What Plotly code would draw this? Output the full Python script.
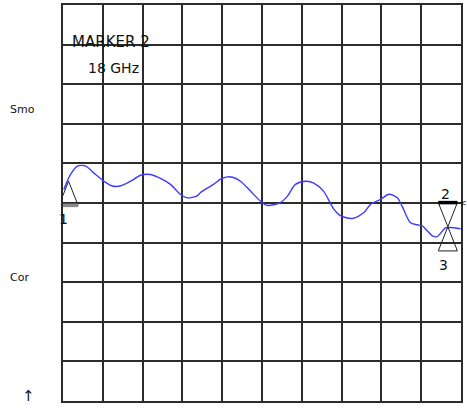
import plotly.graph_objects as go

# ---- data (x and y in screen divisions, 10 x 10 grid) ----
trace_x = [0.02, 0.19, 0.36, 0.57, 0.77, 1.03, 1.24, 1.44, 1.70, 1.95, 2.20, 2.45,
           2.70, 2.95, 3.12, 3.37, 3.45, 3.78, 3.96, 4.13, 4.26, 4.46, 4.71, 4.96,
           5.13, 5.46, 5.63, 5.84, 6.09, 6.29, 6.545, 6.80, 6.97, 7.27, 7.56, 7.73,
           7.98, 8.19, 8.40, 8.52, 8.73, 8.90, 9.03, 9.15, 9.28, 9.40, 9.61, 9.73, 9.99]
trace_y = [5.34, 5.72, 5.93, 5.93, 5.76, 5.55, 5.43, 5.43, 5.55, 5.70, 5.72, 5.62,
           5.47, 5.22, 5.13, 5.18, 5.26, 5.47, 5.60, 5.66, 5.65, 5.55, 5.30, 5.05,
           4.94, 5.01, 5.16, 5.47, 5.55, 5.51, 5.30, 4.85, 4.68, 4.61, 4.76, 4.97,
           5.09, 5.22, 5.13, 4.92, 4.50, 4.45, 4.42, 4.30, 4.17, 4.15, 4.37, 4.38, 4.35]

marker_x = [0.14, 9.67, 9.67]
marker_y = [5.55, 4.40, 4.40]
marker_dir = ["up", "down", "up"]
marker_labels = ["1", "2", "3"]

marker_title = "MARKER 2"
marker_freq = "18 GHz"
side_labels = ["Smo", "Cor", "↑"]

# ---- styles ----
TRI_H = 0.61
TRI_HW = 0.24
GRID = "#2b2b2b"
FONT = "DejaVu Sans"

fig = go.Figure()

fig.add_trace(go.Scatter(x=trace_x, y=trace_y, mode="lines",
                         line=dict(color="#3b3bff", width=1.4, shape="spline", smoothing=0.8),
                         hoverinfo="skip", showlegend=False))

base_styles = [dict(color="#8a8a8a", width=3.5), dict(color="#000000", width=3.5), None]
label_offsets = [(-0.12, -0.95), (-0.06, 0.83), (-0.12, -0.96)]

for mx, my, d, lab, bs, off in zip(marker_x, marker_y, marker_dir, marker_labels,
                                    base_styles, label_offsets):
    sign = -1 if d == "up" else 1
    by = my + sign * TRI_H
    fig.add_trace(go.Scatter(x=[mx, mx - TRI_HW, mx + TRI_HW, mx],
                             y=[my, by, by, my], mode="lines",
                             line=dict(color="#222222", width=1),
                             hoverinfo="skip", showlegend=False))
    if bs is not None:
        fig.add_trace(go.Scatter(x=[mx - TRI_HW, mx + TRI_HW], y=[by, by], mode="lines",
                                 line=bs, hoverinfo="skip", showlegend=False))
    fig.add_annotation(x=mx + off[0], y=my + off[1], text=lab, showarrow=False,
                       xanchor="center", yanchor="middle",
                       font=dict(family=FONT, size=14, color="#111111"))

fig.add_annotation(x=0.17, y=9.06, text=marker_title, showarrow=False,
                   xanchor="left", yanchor="middle",
                   font=dict(family=FONT, size=15, color="#111111"))
fig.add_annotation(x=0.57, y=8.40, text=marker_freq, showarrow=False,
                   xanchor="left", yanchor="middle",
                   font=dict(family=FONT, size=14, color="#111111"))

side_pos = [(-0.137, 0.735, "left", 11), (-0.137, 0.312, "left", 11),
            (-0.086, 0.012, "center", 15)]
for t, (px, py, xa, fs) in zip(side_labels, side_pos):
    fig.add_annotation(x=px, y=py, xref="paper", yref="paper", text=t, showarrow=False,
                       xanchor=xa, yanchor="middle",
                       font=dict(family=FONT, size=fs, color="#111111"))

fig.add_annotation(x=1.0, y=5.0, xref="paper", yref="y", text="<", showarrow=False,
                   xanchor="left", yanchor="middle", xshift=-2, borderpad=0,
                   font=dict(family=FONT, size=8, color="#111111"))

axis_common = dict(range=[0, 10], dtick=1, tick0=0, showgrid=True, gridcolor=GRID,
                   gridwidth=1.6, showline=True, linecolor=GRID, linewidth=2, mirror=True,
                   zeroline=False, showticklabels=False, ticks="", fixedrange=True)
fig.update_xaxes(**axis_common)
fig.update_yaxes(**axis_common)

fig.update_layout(width=467, height=408, margin=dict(l=63, r=6, t=3, b=7),
                  paper_bgcolor="white", plot_bgcolor="white", showlegend=False)

fig.write_html("out.html", config={"displayModeBar": False},
               post_script="document.body.style.margin='0';document.body.style.padding='0';")
